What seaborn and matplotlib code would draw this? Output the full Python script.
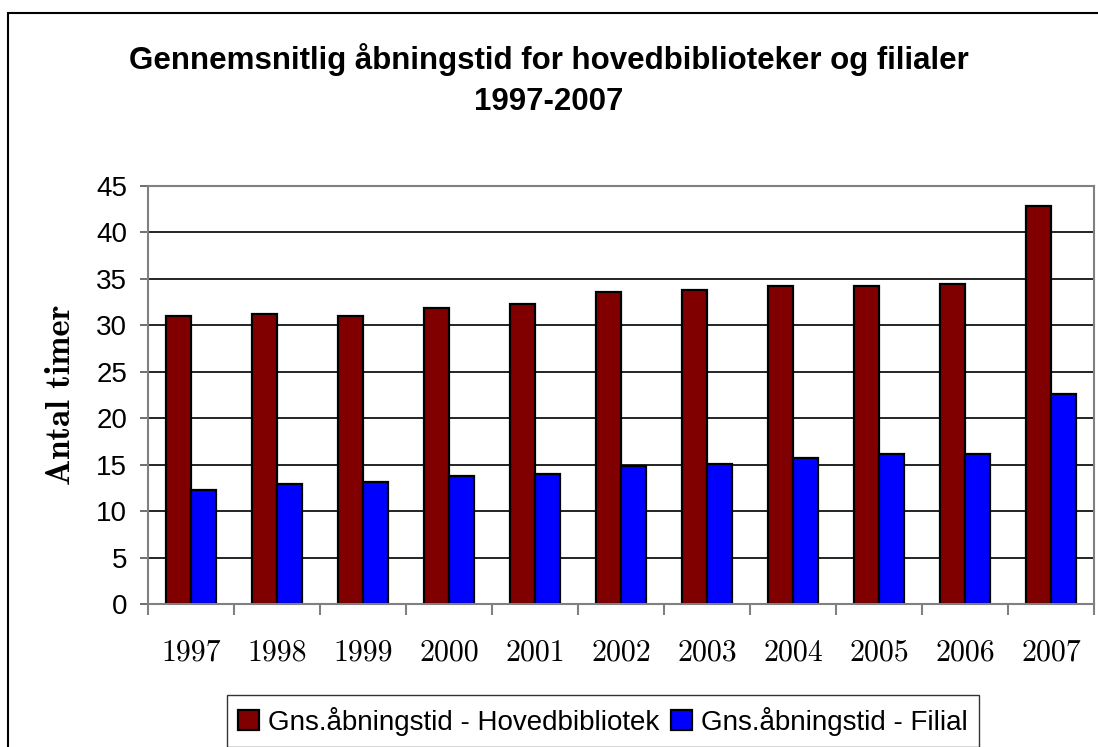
import matplotlib
matplotlib.use("Agg")
import matplotlib.pyplot as plt
import seaborn as sns
import pandas as pd
from matplotlib.patches import Rectangle
from matplotlib.ticker import FixedLocator

years = ['1997', '1998', '1999', '2000', '2001', '2002', '2003', '2004', '2005', '2006', '2007']
hoved = [31.0, 31.2, 31.0, 31.9, 32.3, 33.6, 33.8, 34.2, 34.2, 34.4, 42.8]
filial = [12.3, 12.9, 13.1, 13.8, 14.0, 14.9, 15.1, 15.7, 16.1, 16.1, 22.6]
series_names = ['Gns.åbningstid - Hovedbibliotek', 'Gns.åbningstid - Filial']
colors = ['#800000', '#0000FF']
yticks = [0, 5, 10, 15, 20, 25, 30, 35, 40, 45]
title = 'Gennemsnitlig åbningstid for hovedbiblioteker og filialer\n1997-2007'
ylabel = 'Antal timer'

df = pd.DataFrame({
    'year': years * 2,
    'value': hoved + filial,
    'series': [series_names[0]] * len(years) + [series_names[1]] * len(years),
})

sns.set_style('white')
plt.rcParams['font.family'] = ['Liberation Sans', 'DejaVu Sans']
plt.rcParams['text.color'] = 'black'
plt.rcParams['axes.labelcolor'] = 'black'
plt.rcParams['xtick.color'] = 'black'
plt.rcParams['ytick.color'] = 'black'

W, H = 1098, 747
fig = plt.figure(figsize=(W / 100, H / 100), dpi=100)
ax = fig.add_axes([148 / W, 1 - 604 / H, (1094 - 148) / W, (604 - 186) / H])

sns.barplot(data=df, x='year', y='value', hue='series', palette=colors,
            width=0.58, gap=0, edgecolor='black', linewidth=1.6, ax=ax,
            saturation=1)

ax.set_ylim(0, 45)
ax.set_xlim(-0.5, len(years) - 0.5)
ax.set_yticks(yticks)
ax.set_yticklabels([str(t) for t in yticks], fontsize=20, family='Liberation Sans')
ax.yaxis.grid(True, color='black', linewidth=1.2)
ax.set_axisbelow(True)

for s in ax.spines.values():
    s.set_color('#808080')
    s.set_linewidth(1.5)
    s.set_visible(True)

ax.tick_params(axis='y', which='major', direction='out', length=6, width=1.2,
               color='#555555', pad=9, left=True, labelcolor='black')
ax.set_xticks(range(len(years)))
ax.set_xticklabels(years, fontsize=21.5, family='cmr10')
ax.tick_params(axis='x', which='major', length=0, pad=25, labelcolor='black')
ax.xaxis.set_minor_locator(FixedLocator([i - 0.5 for i in range(len(years) + 1)]))
ax.tick_params(axis='x', which='minor', direction='out', length=8, width=1.5,
               color='#808080', bottom=True)
ax.set_xlabel('')
ax.set_ylabel(ylabel, fontsize=25, family='cmb10', labelpad=14, color='black')

handles, labels = ax.get_legend_handles_labels()
if ax.get_legend() is not None:
    ax.get_legend().remove()
leg = fig.legend(handles, labels, loc='center', bbox_to_anchor=(603 / W, 1 - 721 / H),
                 ncol=2, frameon=True, fancybox=False, edgecolor='black',
                 handlelength=0.75, handleheight=0.75, handletextpad=0.35, columnspacing=0.4,
                 borderpad=0.4, borderaxespad=0.0, prop={'family': 'Liberation Sans', 'size': 20})
leg.get_frame().set_linewidth(1.0)
for t in leg.get_texts():
    t.set_color('black')

fig.text(0.5, 1 - 80 / H, title, ha='center', va='center', fontsize=22.5,
         fontweight='bold', family='Liberation Sans', linespacing=1.45, color='black')

fig.patches.append(Rectangle((8 / W, -0.02), 1.1, 1 - 13 / H + 0.02,
                             transform=fig.transFigure, fill=False,
                             edgecolor='black', linewidth=1.5))

fig.savefig('out.png', dpi=100)
